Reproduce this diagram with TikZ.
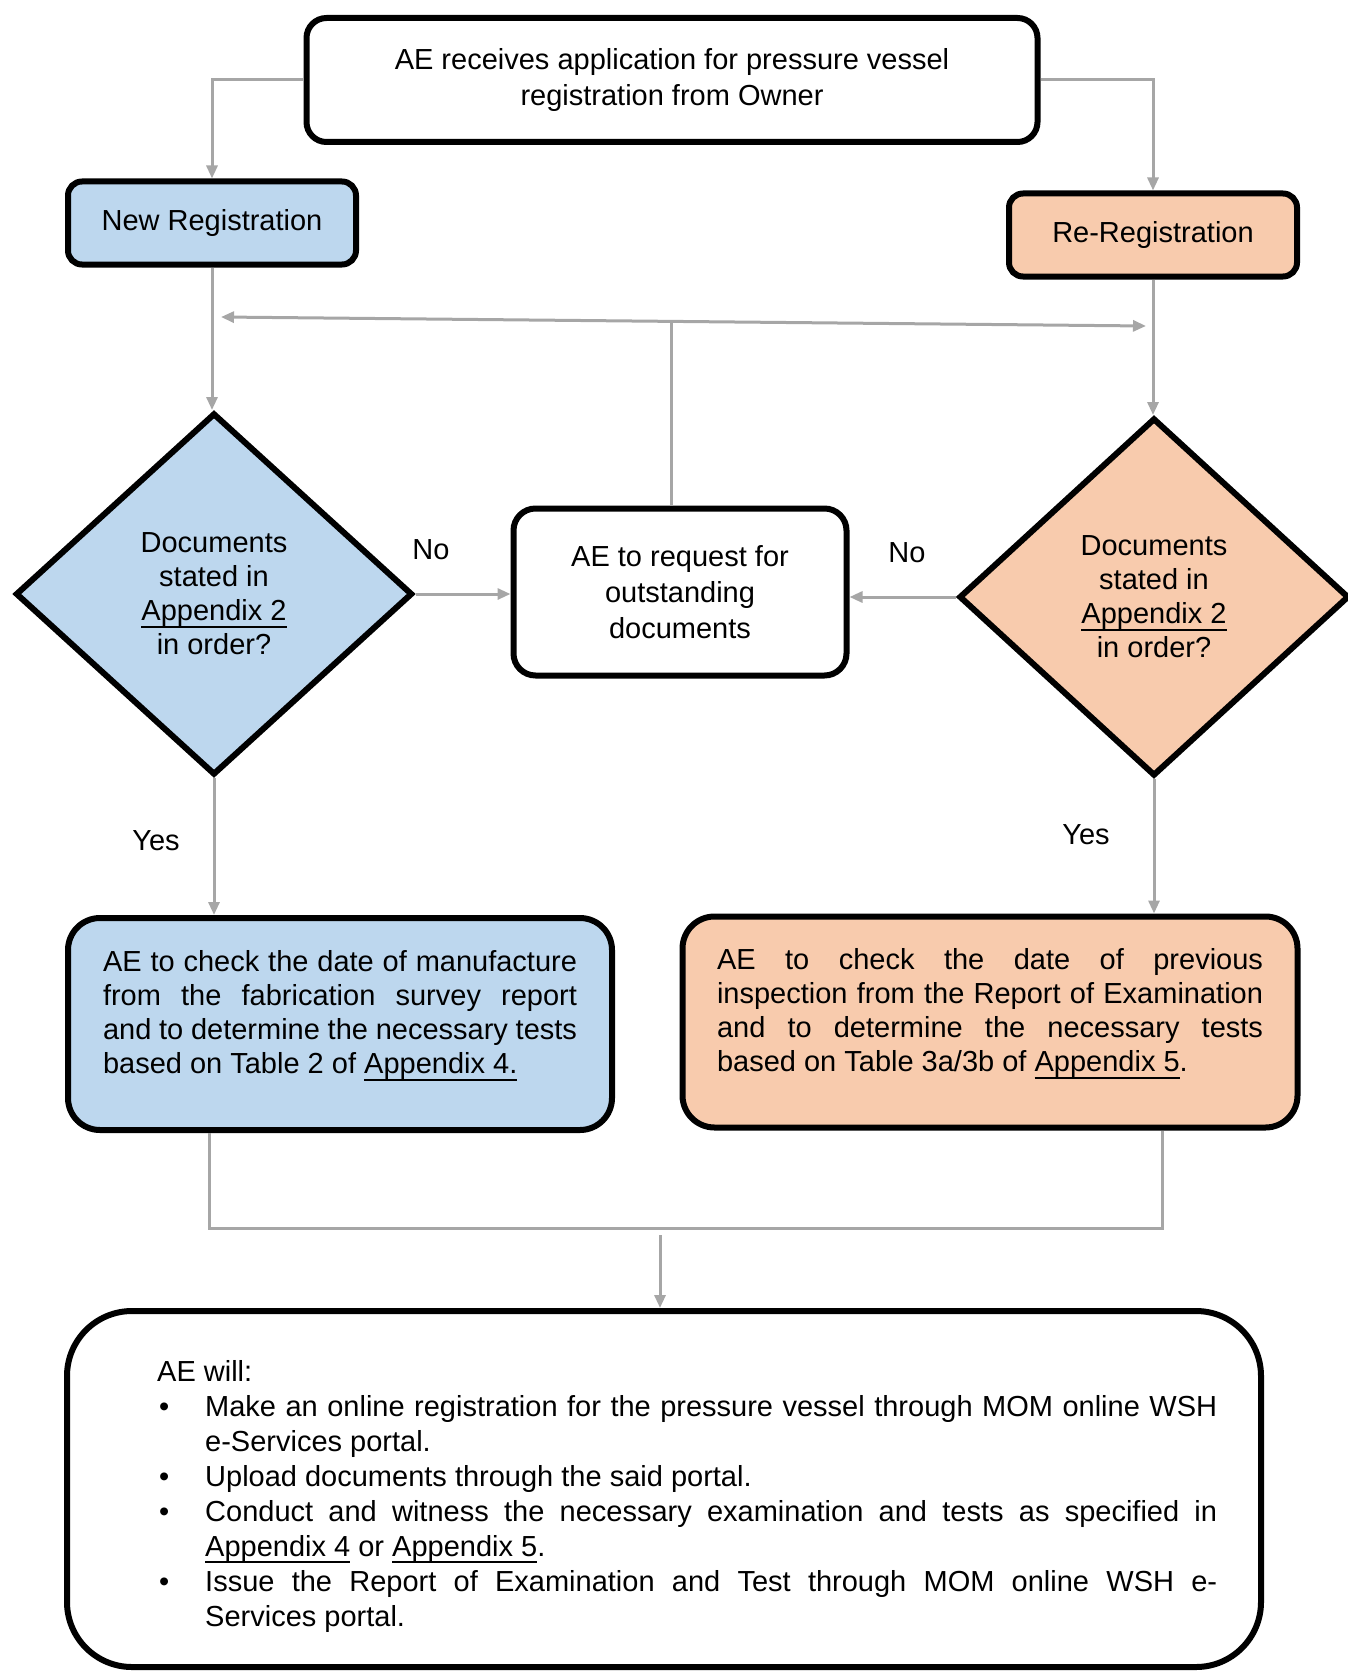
\documentclass[tikz,border=0pt]{standalone}
\usepackage{fontspec}
\setmainfont{Liberation Sans}
\usepackage{xcolor}
\usetikzlibrary{arrows.meta, positioning, shapes.geometric}
\definecolor{regblue}{HTML}{BDD7EE}
\definecolor{regpeach}{HTML}{F8CBAD}
\definecolor{linkgray}{HTML}{A6A6A6}
\newcommand{\pvfont}{\fontsize{29pt}{34pt}\selectfont\hyphenpenalty 10000\relax\tolerance 9999\relax\hbadness 10000\relax}
\newcommand{\pvwide}{\pvfont\fontsize{29pt}{36pt}\selectfont}
\newcommand{\pvlink}[1]{\setbox0\hbox{#1}\rlap{\rule[-7pt]{\wd0}{2pt}}\box0\relax}
\newcommand{\pvitem}[1]{\par\noindent\hangindent=48pt\hangafter=1\makebox[48pt][l]{\hspace{2pt}\textbullet}#1}

\begin{document}
\begin{tikzpicture}[x=1pt, y=-1pt, >={Triangle[length=13pt, width=11pt]},
		every node/.style={font=\pvfont, inner sep=0pt},
		box/.style={draw=black, line width=6pt, rounded corners=#1, align=center},
		box/.default=16pt,
		choice/.style={diamond, draw=black, line width=6pt, align=center},
		flow/.style={draw=linkgray, line width=3pt}]
		
		\useasboundingbox (0,0) rectangle (1348,1672);
		
		% 1. application and the two routes
		\node[box=20pt, font=\pvwide, minimum width=731pt, minimum height=124pt] (app) at (672,80)
		{AE receives application for pressure vessel\\registration from Owner};
		\node[box=14pt, fill=regblue, minimum width=288pt, minimum height=83pt] (newreg) at (212,223) {New Registration};
		\node[box=14pt, fill=regpeach, minimum width=288pt, minimum height=83pt] (rereg) at (1153,235) {Re-Registration};
		
		% 2. document checks
		\node[choice, fill=regblue, minimum width=397pt, minimum height=362pt] (docnew) at (214,594)
		{Documents\\stated in\\\pvlink{Appendix 2}\\in order?};
		\node[choice, fill=regpeach, minimum width=390pt, minimum height=358pt] (docre) at (1154,597)
		{Documents\\stated in\\\pvlink{Appendix 2}\\in order?};
		
		% 3. request for missing documents
		\node[box=22pt, font=\pvwide, minimum width=333pt, minimum height=167pt] (request) at (680,592)
		{AE to request for\\outstanding\\documents};
		
		% 4. date checks
		\node[box=32pt, fill=regblue, align=justify, text width=474pt, text depth=126pt,
		minimum width=544pt, minimum height=212pt] (checknew) at (340,1024)
		{AE to check the date of manufacture\linebreak from the fabrication survey report\linebreak
			and to determine the necessary tests\linebreak based on Table 2 of \pvlink{Appendix 4.}};
		\node[box=32pt, fill=regpeach, align=justify, text width=546pt, text depth=126pt,
		minimum width=615pt, minimum height=211pt] (checkre) at (990,1022)
		{AE to check the date of previous\linebreak inspection from the Report of Examination\linebreak
			and to determine the necessary tests\linebreak based on Table 3a/3b of \pvlink{Appendix 5}.};
		
		% 5. final actions
		\node[box=65pt, minimum width=1194pt, minimum height=356pt] (final) at (664,1489) {};
		\node[anchor=west, font=\pvfont\fontsize{29pt}{35pt}\selectfont, text width=1060pt, align=justify] (finaltext) at (157,1496)
		{AE will:
			\pvitem{Make an online registration for the pressure vessel through MOM online WSH\linebreak e-Services portal.}
			\pvitem{Upload documents through the said portal.}
			\pvitem{Conduct and witness the necessary examination and tests as specified in\linebreak
				\pvlink{Appendix 4} or \pvlink{Appendix 5}.}
			\pvitem{Issue the Report of Examination and Test through MOM online WSH e-\linebreak Services portal.}\par};
		
		% 6. labels
		\node (nonew) at (431,550) {No};
		\node (nore) at (907,553) {No};
		\node (yesnew) at (156,841) {Yes};
		\node (yesre) at (1086,835) {Yes};
		
		% 7. connectors
		\coordinate (backL) at (221,317);
		\coordinate (backR) at (1146,326);
		\coordinate (backM) at (671,321);
		\coordinate (joinL) at (209,1228);
		\coordinate (joinR) at (1162,1228);
		\coordinate (joinM) at (660,1235);
		
		\draw[flow, ->] (app.west) -| (newreg.north);
		\draw[flow, ->] (app.east) -| (rereg.north);
		\draw[flow, ->] (newreg.south) -- (newreg.south |- docnew.north);
		\draw[flow, ->] (rereg.south) -- (rereg.south |- docre.north);
		\draw[flow, <->] (backL) -- (backR);
		\draw[flow] ([xshift=-9pt]request.north) -- (backM);
		\draw[flow, ->] (docnew.east) -- (docnew.east -| request.west);
		\draw[flow, ->] (docre.west) -- (docre.west -| request.east);
		\draw[flow, ->] (docnew.south) -- (docnew.south |- checknew.north);
		\draw[flow, ->] (docre.south) -- (docre.south |- checkre.north);
		\draw[flow] (checknew.south -| joinL) -- (joinL) -- (joinR) -- (checkre.south -| joinR);
		\draw[flow, ->] (joinM) -- (joinM |- final.north);
		
	\end{tikzpicture}
\end{document}
